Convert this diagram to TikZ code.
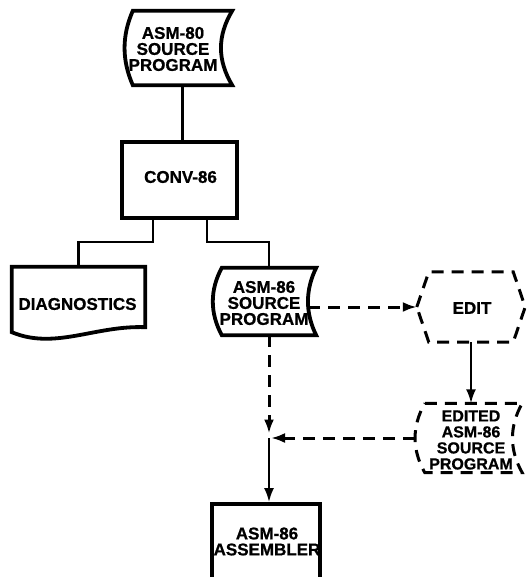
\documentclass[tikz,border=0pt]{standalone}
\usepackage{fontspec}
\setmainfont{Liberation Sans}
\newfontfamily\heavyfont[FakeBold=0.8]{Liberation Sans Bold}
\usetikzlibrary{arrows.meta,calc}
\begin{document}
\begin{tikzpicture}[x=1pt,y=-1pt,
  lbl/.style={font=\heavyfont\fontsize{17}{16}\selectfont, align=center, inner sep=0pt},
  holder/.style={draw=none, inner sep=0pt, minimum width=#1},
  thickbox/.style={line width=3.8pt, line join=miter},
  conn/.style={line width=2.2pt},
  dashline/.style={line width=3pt, dash pattern=on 12pt off 8pt},
  arr/.style={-{Latex[length=14pt,width=10pt]}}]
\useasboundingbox (0,0) rectangle (528,577);
\clip (0,0) rectangle (528,577);

% ASM-80 source program (stored data)
\node[holder=99pt, minimum height=74pt] (a80) at (182.5,48) {};
\draw[thickbox] (a80.north west) -- (a80.north east)
  .. controls ($(a80.north east)+(-15,25)$) and ($(a80.south east)+(-15,-25)$) .. (a80.south east)
  -- (a80.south west)
  .. controls ($(a80.south west)+(-11,-25)$) and ($(a80.north west)+(-11,25)$) .. cycle;
\node[lbl] (a80t) at (173,49) {ASM-80\\SOURCE\\PROGRAM};

% CONV-86
\node[thickbox, draw, minimum width=115pt, minimum height=76pt, inner sep=0pt] (conv) at (179.5,180) {};
\node[lbl] (convt) at (180.5,177) {CONV-86};

% DIAGNOSTICS (document)
\node[holder=133pt, minimum height=60pt] (diag) at (78.5,297) {};
\draw[thickbox] (diag.north west) -- (diag.north east) -- (diag.south east)
  .. controls +(-50,-2) and +(43,18) .. ($(diag.south west)+(0,5)$) -- cycle;
\node[lbl] (diagt) at (77.5,304) {DIAGNOSTICS};

% ASM-86 source program (stored data)
\node[holder=94pt, minimum height=67pt] (a86) at (269,301.5) {};
\draw[thickbox] (a86.north west) -- (a86.north east)
  .. controls ($(a86.north east)+(-11,22)$) and ($(a86.south east)+(-11,-22)$) .. (a86.south east)
  -- (a86.south west)
  .. controls ($(a86.south west)+(-12,-22)$) and ($(a86.north west)+(-12,22)$) .. cycle;
\node[lbl] (a86t) at (264,303) {ASM-86\\SOURCE\\PROGRAM};

% EDIT (hexagon, dashed)
\node[holder=108pt, minimum height=70pt] (edit) at (471,307) {};
\draw[dashline] (edit.west) -- ([xshift=12pt]edit.north west) -- ([xshift=-12pt]edit.north east)
  -- (edit.east) -- ([xshift=-12pt]edit.south east) -- ([xshift=12pt]edit.south west) -- cycle;
\node[lbl] (editt) at (472,308) {EDIT};

% EDITED ASM-86 source program (stored data, dashed)
\node[holder=97pt, minimum height=69pt] (edited) at (473.5,438) {};
\draw[dashline] (edited.north west) -- (edited.north east)
  .. controls ($(edited.north east)+(-13,23)$) and ($(edited.south east)+(-13,-23)$) .. (edited.south east)
  -- (edited.south west)
  .. controls ($(edited.south west)+(-13,-23)$) and ($(edited.north west)+(-13,23)$) .. cycle;
\node[lbl, font=\heavyfont\fontsize{16}{16}\selectfont] (editedt) at (471,440) {EDITED\\ASM-86\\SOURCE\\PROGRAM};

% ASM-86 ASSEMBLER
\node[thickbox, draw, minimum width=108pt, minimum height=106pt, inner sep=0pt] (asm) at (266,557) {};
\node[lbl] (asmt) at (267,541.5) {ASM-86\\ASSEMBLER};

% connectors
\draw[conn] (a80.south) -- (a80.south |- conv.north);
\draw[conn] ([xshift=-26.5pt]conv.south) -- ++(0,22) -| (diag.north);
\draw[conn] ([xshift=27.5pt]conv.south) -- ++(0,22) -| (a86.north);

\coordinate (a86r) at ([xshift=-8pt]a86.east);
\draw[dashline, arr] (a86r |- edit.west) -- (edit.west);
\draw[conn, arr] (edit.south) -- (edit.south |- edited.north);

\coordinate (junc) at (a86.south |- edited.west);
\draw[dashline, arr] ([xshift=-10pt]edited.west) -- ([xshift=2pt]junc);
\draw[dashline, arr] (a86.south) -- ([yshift=4.5pt]junc);
\draw[conn, arr] (junc) -- (junc |- asm.north);
\end{tikzpicture}
\end{document}
